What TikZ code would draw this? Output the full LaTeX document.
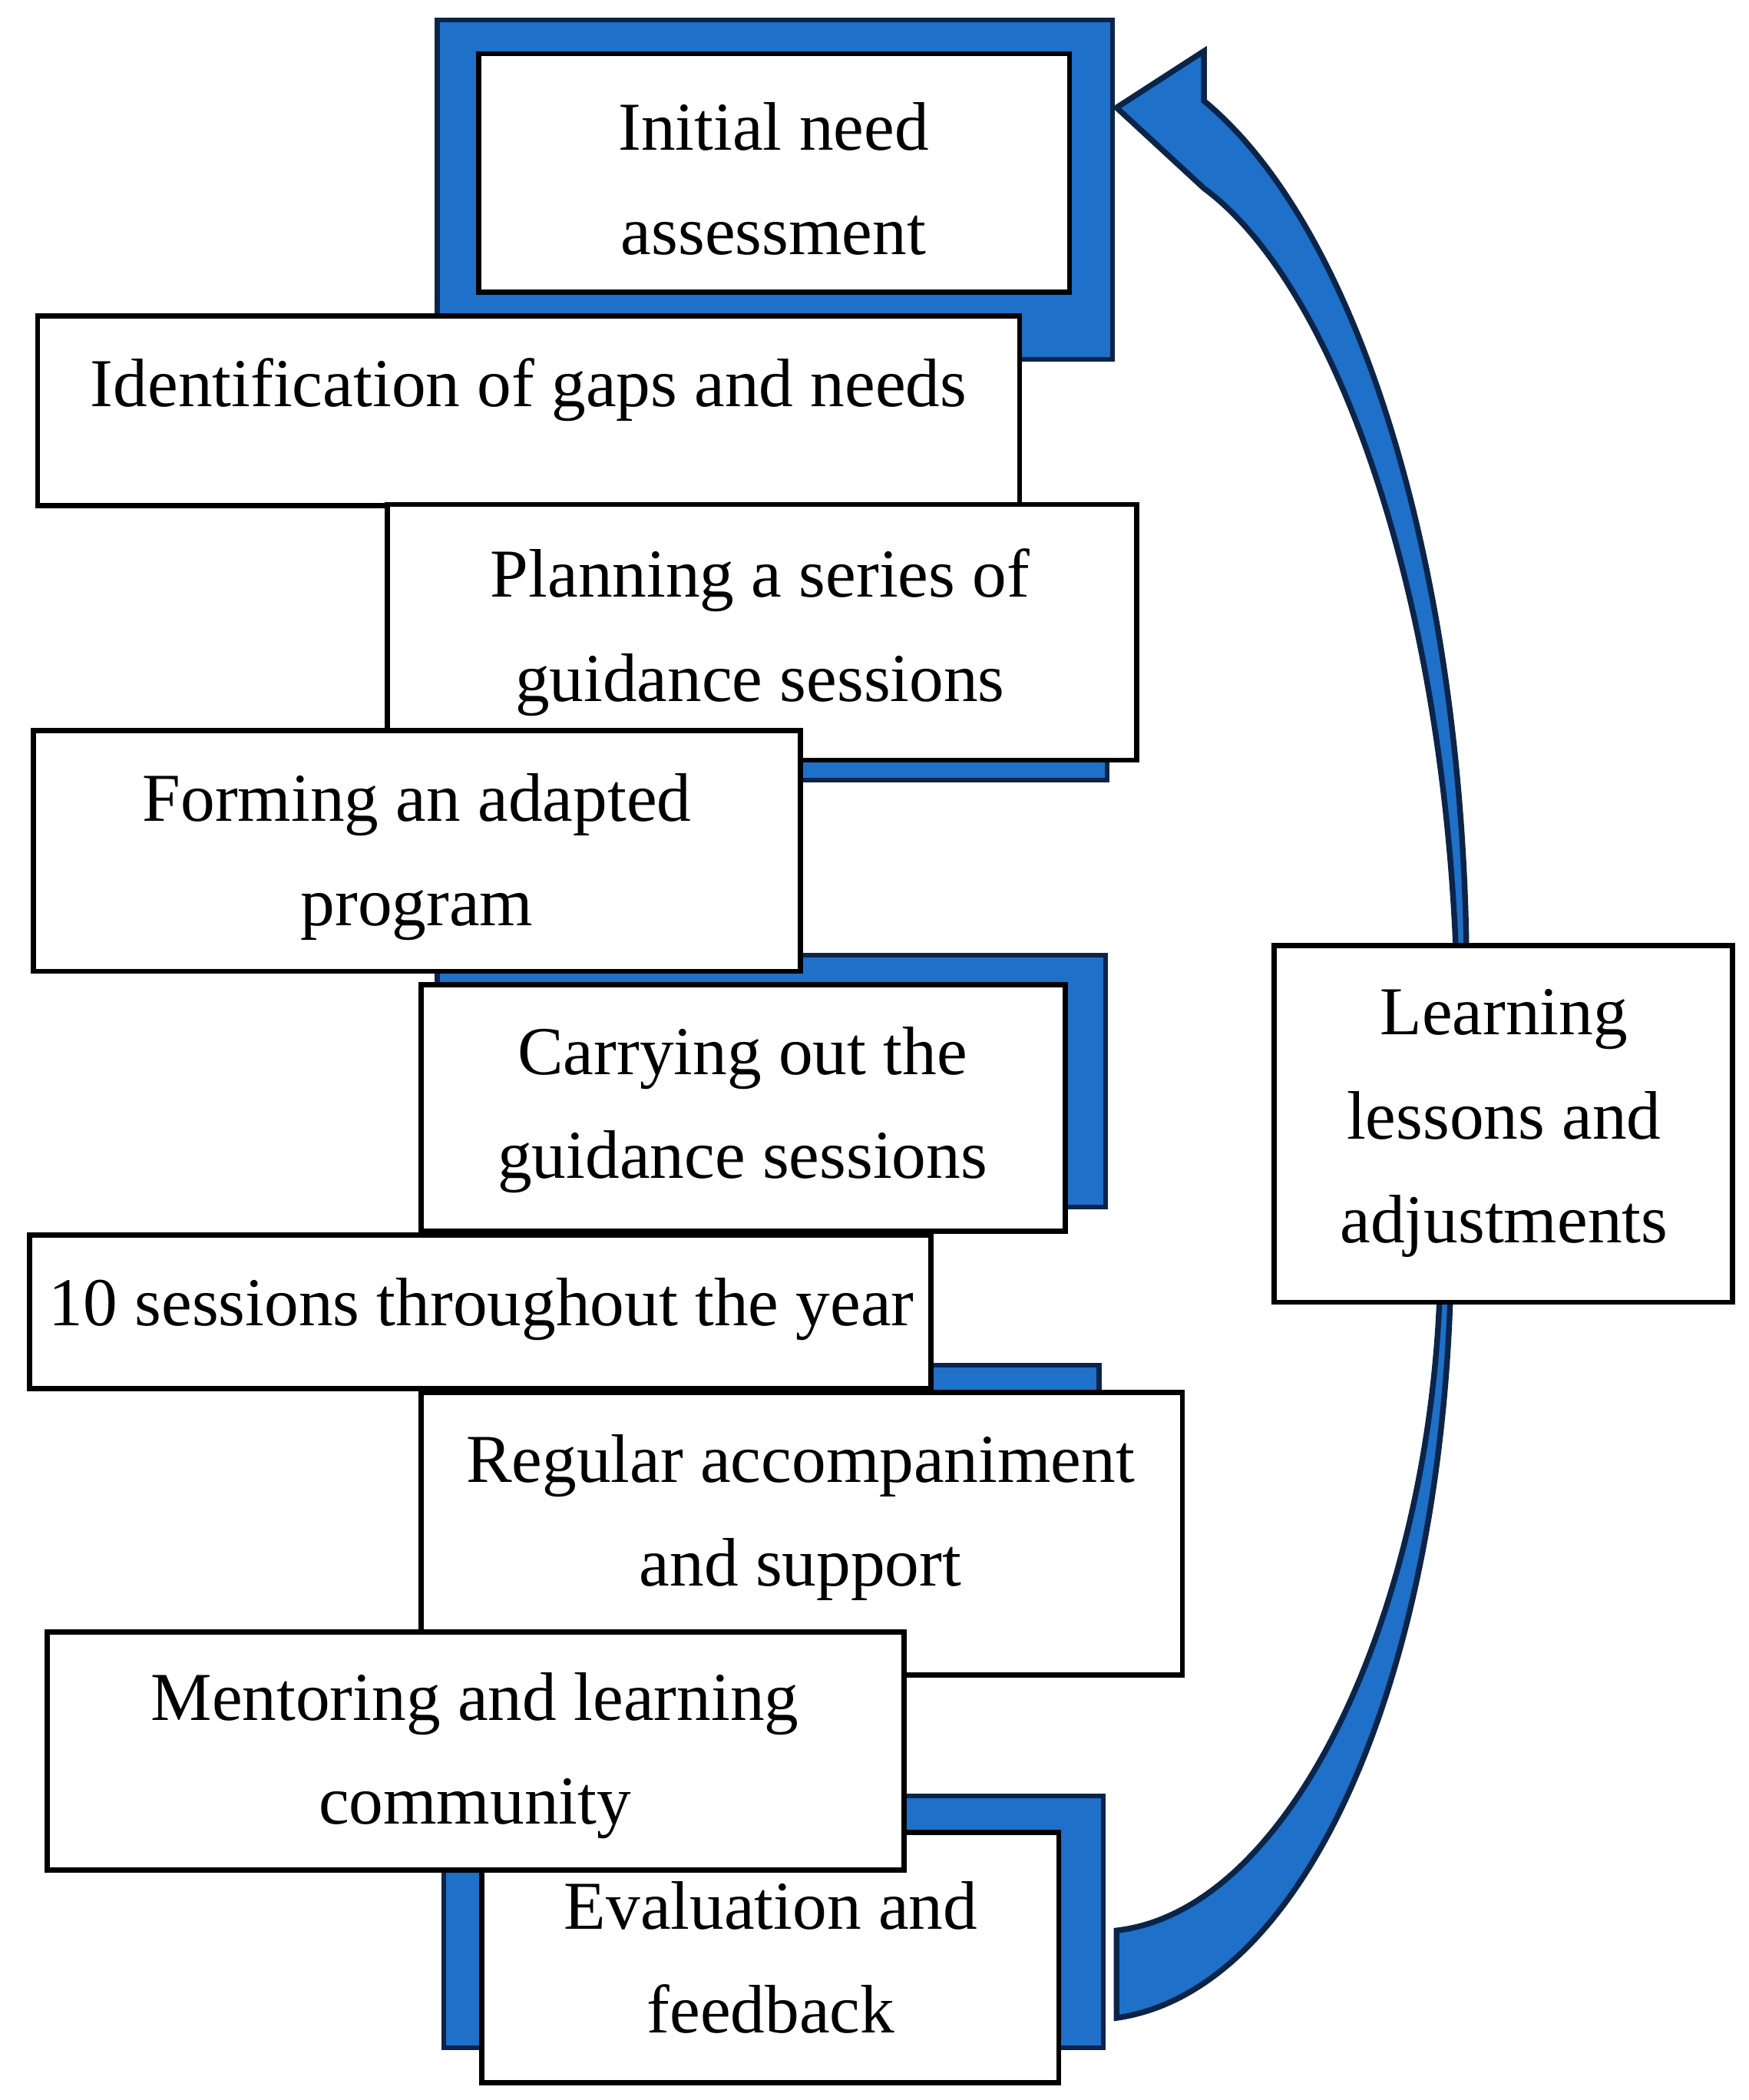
\documentclass[tikz,border=0pt]{standalone}
\usepackage{fontspec}
\setmainfont{Liberation Serif}
\begin{document}
\begin{tikzpicture}[x=0.01cm,y=-0.01cm,
  blu/.style={fill=bluefill,draw=navy,line width=1pt},
  box/.style={fill=white,draw=black,line width=1.1pt},
  txt/.style={align=center,font=\fontsize{14.5}{22}\selectfont,inner sep=0pt}]
\definecolor{bluefill}{RGB}{30,112,200}
\definecolor{navy}{RGB}{12,36,72}
\useasboundingbox (0,0) rectangle (1300,1561);
% curved arrow
\fill[bluefill,draw=navy,line width=1.2pt]
  (830,1500) .. controls (970,1480) and (1068,1250) .. (1078,968)
  -- (1090,700) .. controls (1085,420) and (1010,170) .. (895,75)
  -- (895,38) -- (830,80) -- (895,140)
  .. controls (990,210) and (1070,430) .. (1082,700)
  -- (1070,968) .. controls (1060,1200) and (960,1420) .. (830,1435) -- cycle;
% blue frames
\draw[blu] (325,15) rectangle (827,267);
\draw[blu] (325,400) rectangle (823,580);
\draw[blu] (325,710) rectangle (822,897);
\draw[blu] (325,1015) rectangle (817,1050);
\draw[blu] (330,1335) rectangle (820,1522);
% boxes
\draw[box] (356,40) rectangle (795,217);
\node[txt] (t1) at (575,133) {Initial need\\assessment};
\draw[box] (28,235) rectangle (758,376);
\node[txt] (t2) at (393,290) {Identification of gaps and needs};
\draw[box] (288,375) rectangle (845,565);
\node[txt] (t3) at (565,470) {Planning a series of\\guidance sessions};
\draw[box] (25,543) rectangle (595,722);
\node[txt] (t4) at (310,637) {Forming an adapted\\program};
\draw[box] (313,732) rectangle (792,915);
\node[txt] (t5) at (552,825) {Carrying out the\\guidance sessions};
\draw[box] (22,918) rectangle (692,1032);
\node[txt] (t6) at (358,973) {10 sessions throughout the year};
\draw[box] (313,1035) rectangle (879,1245);
\node[txt] (t7) at (595,1128) {Regular accompaniment\\and support};
\draw[box] (358,1362) rectangle (787,1548);
\node[txt] (t9) at (573,1455) {Evaluation and\\feedback};
\draw[box] (35,1213) rectangle (672,1390);
\node[txt] (t8) at (353,1305) {Mentoring and learning\\community};
\draw[box] (947,703) rectangle (1288,968);
\node[txt] (t10) at (1118,835) {Learning\\lessons and\\adjustments};
\end{tikzpicture}
\end{document}
